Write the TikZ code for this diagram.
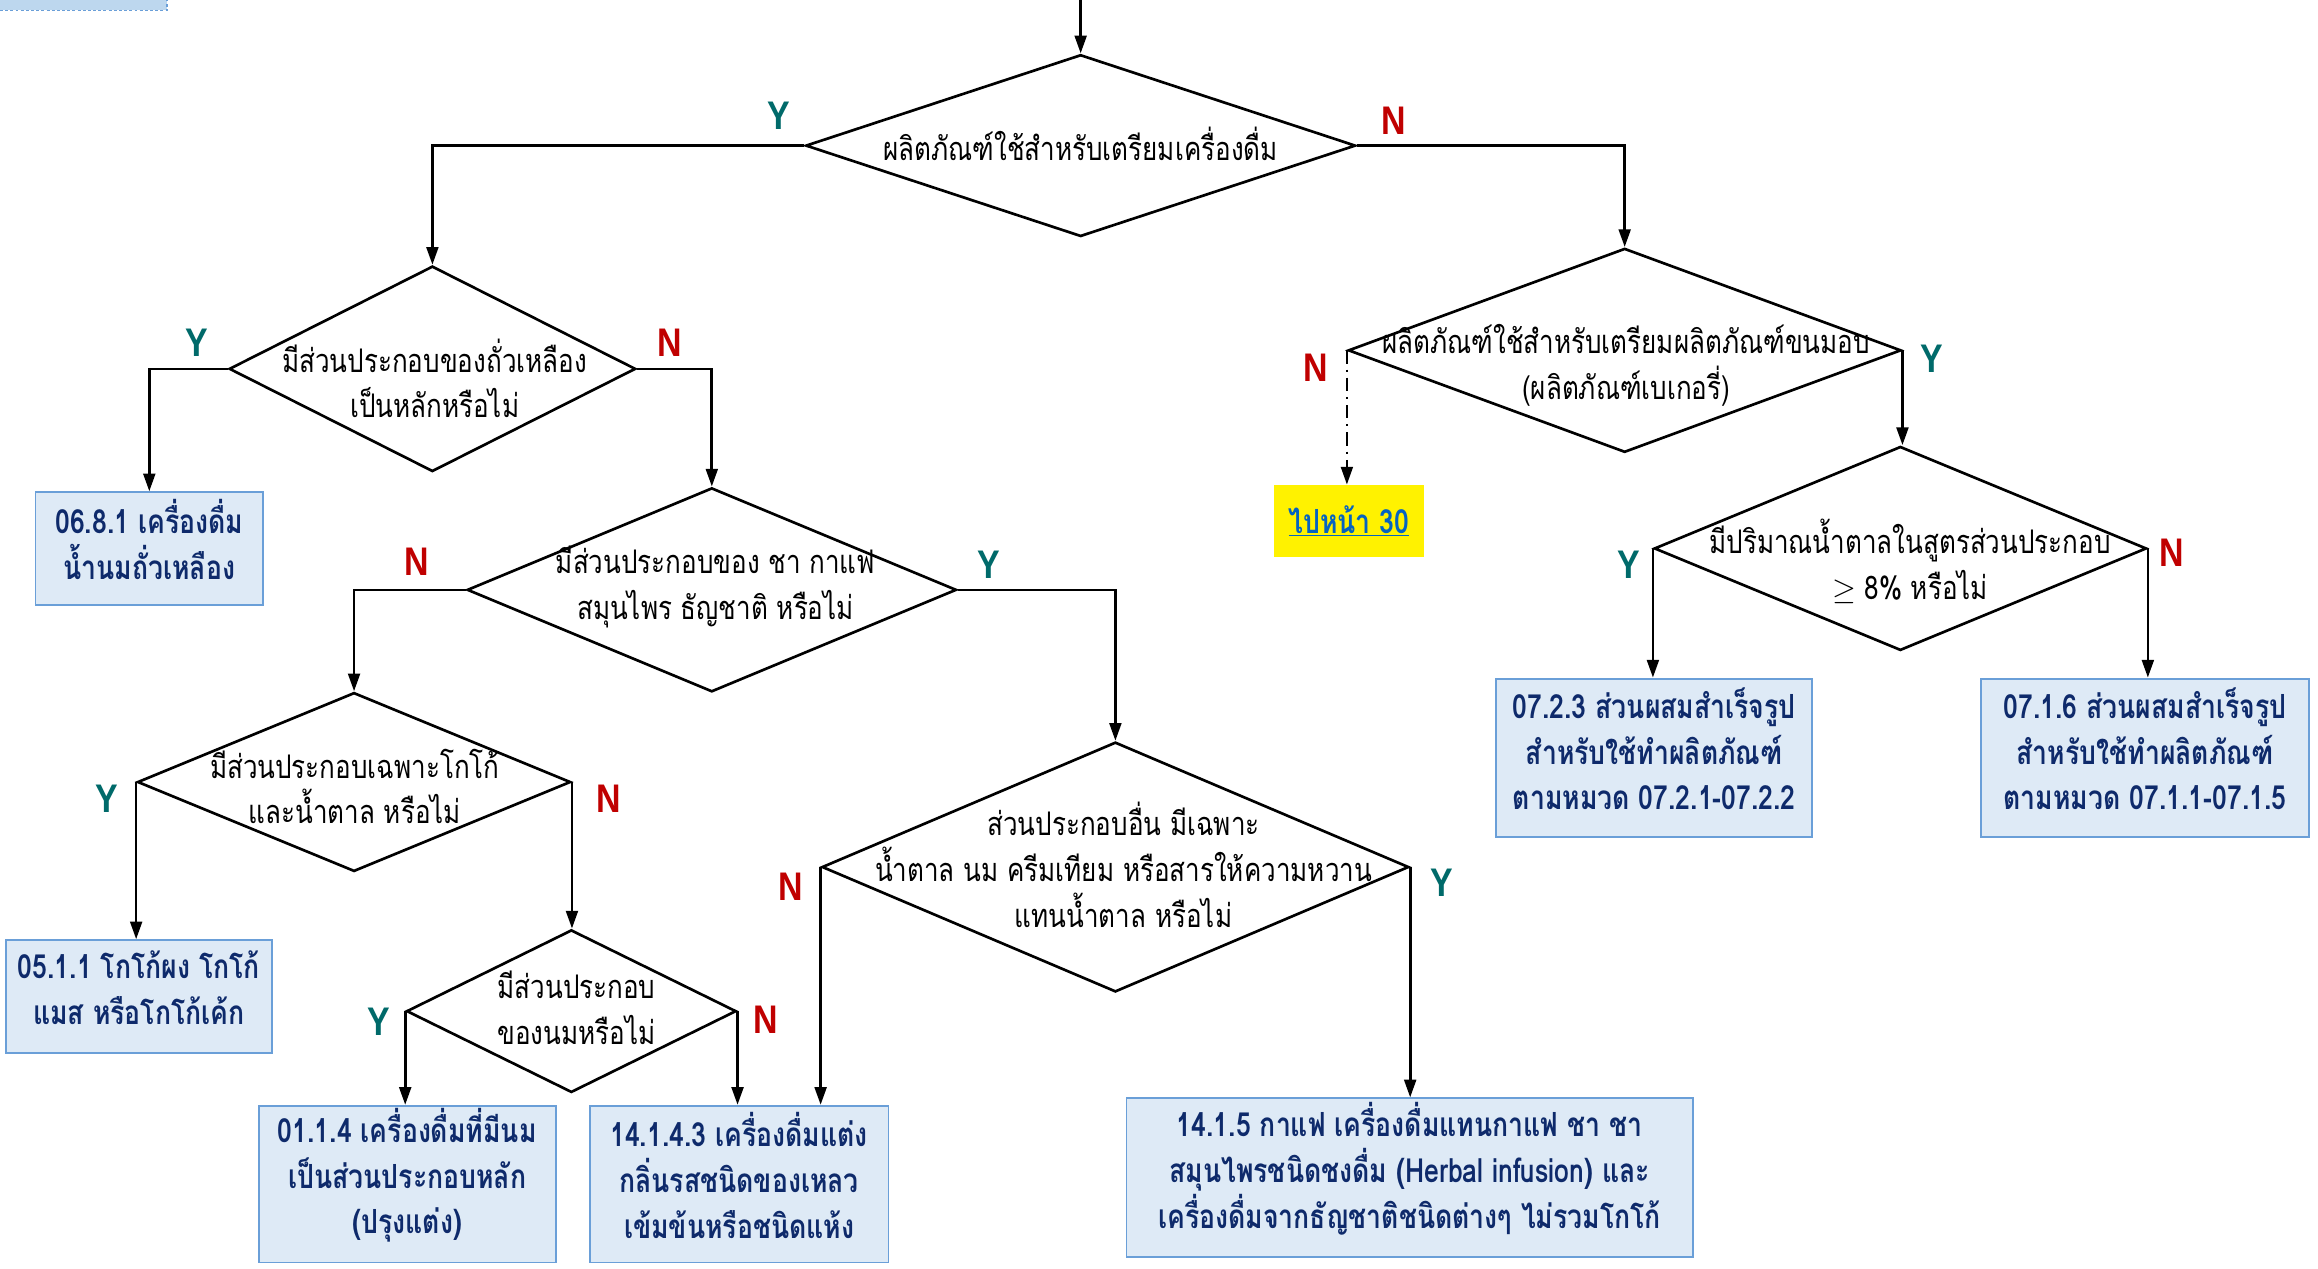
\documentclass[tikz,border=0pt]{standalone}
\usepackage{fontspec}
\usetikzlibrary{shapes.geometric,arrows.meta}
\newfontfamily\thai[Script=Thai,FakeStretch=0.8]{Loma}
\newfontfamily\ynfont[FakeStretch=0.85]{Liberation Sans}
\definecolor{navy}{HTML}{0E2A6B}
\definecolor{boxfill}{HTML}{DEEAF6}
\definecolor{boxborder}{HTML}{6A9FD8}
\definecolor{yteal}{HTML}{006A6A}
\definecolor{nred}{HTML}{C00000}
\definecolor{linkblue}{HTML}{0563C1}
\definecolor{sliver}{HTML}{BDD7EE}
\begin{document}
\begin{tikzpicture}[x=1pt,y=-1pt,
  dia/.style={draw, shape=diamond, inner sep=0pt, line width=1.8pt, fill=white},
  dtext/.style={font=\thai\fontsize{22}{31}\selectfont, align=center, inner sep=0pt},
  res/.style={draw=boxborder, fill=boxfill, line width=1.3pt, inner sep=0pt},
  restext/.style={font=\thai\bfseries\fontsize{22.5}{31}\selectfont, text=navy, align=center, inner sep=0pt},
  ylab/.style={text=yteal, font=\ynfont\bfseries\fontsize{27}{27}\selectfont, inner sep=0pt},
  nlab/.style={text=nred, font=\ynfont\bfseries\fontsize{27}{27}\selectfont, inner sep=0pt},
  arr/.style={line width=1.8pt, -{Triangle[length=12pt,width=8pt]}},
  dasharr/.style={line width=1.6pt, dash pattern=on 9pt off 4pt on 1.5pt off 4pt, -{Triangle[length=12pt,width=8pt]}}
]
\useasboundingbox (0,0) rectangle (1568,858);
\fill[white] (0,0) rectangle (1568,858);
% top-left sliver
\fill[sliver] (0,0) rectangle (113,7);
\draw[boxborder, line width=1pt, dash pattern=on 2pt off 1.5pt] (0,7) -- (113,7) -- (113,0);

% diamonds
\node[dia, minimum width=372pt, minimum height=123pt] (d1) at (731,98.5) {};
\node[dia, minimum width=275pt, minimum height=139pt] (d2) at (292.5,249.5) {};
\node[dia, minimum width=331pt, minimum height=138pt] (d4) at (481.5,399) {};
\node[dia, minimum width=293pt, minimum height=121pt] (d5) at (239.5,529) {};
\node[dia, minimum width=223pt, minimum height=110pt] (d7) at (386.5,684) {};
\node[dia, minimum width=397pt, minimum height=169pt] (d6) at (754.5,586.5) {};
\node[dia, minimum width=374pt, minimum height=138pt] (d3) at (1099,237) {};
\node[dia, minimum width=333pt, minimum height=138pt] (d8) at (1285.5,371) {};

% diamond texts
\node[dtext] (t1) at (731,97) {ผลิตภัณฑ์ใช้สำหรับเตรียมเครื่องดื่ม};
\node[dtext] (t2) at (294,256) {มีส่วนประกอบของถั่วเหลือง\\เป็นหลักหรือไม่};
\node[dtext] (t4) at (484,397) {มีส่วนประกอบของ ชา กาแฟ\\สมุนไพร ธัญชาติ หรือไม่};
\node[dtext] (t5) at (240,532) {มีส่วนประกอบเฉพาะโกโก้\\และน้ำตาล หรือไม่};
\node[dtext] (t7) at (390,682) {มีส่วนประกอบ\\ของนมหรือไม่};
\node[dtext] (t6) at (760,585) {ส่วนประกอบอื่น มีเฉพาะ\\น้ำตาล นม ครีมเทียม หรือสารให้ความหวาน\\แทนน้ำตาล หรือไม่};
\node[dtext] (t3) at (1100,247) {ผลิตภัณฑ์ใช้สำหรับเตรียมผลิตภัณฑ์ขนมอบ\\(ผลิตภัณฑ์เบเกอรี่)};
\node[dtext] (t8) at (1292,380) {มีปริมาณน้ำตาลในสูตรส่วนประกอบ\\$\geq$ 8\% หรือไม่};

% result boxes
\node[res, minimum width=154pt, minimum height=76pt] (b1) at (101,371) {};
\node[res, minimum width=180pt, minimum height=76pt] (b2) at (94,674) {};
\node[res, minimum width=201pt, minimum height=106pt] (b3) at (275.5,801) {};
\node[res, minimum width=202pt, minimum height=106pt] (b4) at (500,801) {};
\node[res, minimum width=383pt, minimum height=107pt] (b5) at (953.5,796.5) {};
\node[res, minimum width=214pt, minimum height=107pt] (b6) at (1119,512.5) {};
\node[res, minimum width=222pt, minimum height=107pt] (b7) at (1451,512.5) {};
\node[restext] (r1) at ([yshift=6pt]b1.center) {06.8.1 เครื่องดื่ม\\น้ำนมถั่วเหลือง};
\node[restext] (r2) at ([yshift=6pt]b2.center) {05.1.1 โกโก้ผง โกโก้\\แมส หรือโกโก้เค้ก};
\node[restext] (r3) at ([yshift=6pt]b3.center) {01.1.4 เครื่องดื่มที่มีนม\\เป็นส่วนประกอบหลัก\\(ปรุงแต่ง)};
\node[restext] (r4) at ([yshift=6pt]b4.center) {14.1.4.3 เครื่องดื่มแต่ง\\กลิ่นรสชนิดของเหลว\\เข้มข้นหรือชนิดแห้ง};
\node[restext] (r5) at ([yshift=6pt]b5.center) {14.1.5 กาแฟ เครื่องดื่มแทนกาแฟ ชา ชา\\สมุนไพรชนิดชงดื่ม (Herbal infusion) และ\\เครื่องดื่มจากธัญชาติชนิดต่างๆ ไม่รวมโกโก้};
\node[restext] (r6) at ([yshift=6pt]b6.center) {07.2.3 ส่วนผสมสำเร็จรูป\\สำหรับใช้ทำผลิตภัณฑ์\\ตามหมวด 07.2.1-07.2.2};
\node[restext] (r7) at ([yshift=6pt]b7.center) {07.1.6 ส่วนผสมสำเร็จรูป\\สำหรับใช้ทำผลิตภัณฑ์\\ตามหมวด 07.1.1-07.1.5};
\node[fill=yellow, minimum width=101pt, minimum height=49pt, inner sep=0pt,
  font=\thai\bfseries\fontsize{22.5}{26}\selectfont, text=linkblue] (go) at (912.5,352.5) {\underline{ไปหน้า 30}};

% connectors
\coordinate (start) at (731,0);
\draw[arr] (start) -- (d1.north);
\draw[arr] (d1.west) -| (d2.north);
\draw[arr] (d1.east) -| (d3.north);
\draw[arr] (d2.west) -| (b1.north);
\draw[arr] (d2.east) -| (d4.north);
\draw[arr] (d4.west) -| (d5.north);
\draw[arr] (d4.east) -| (d6.north);
\draw[arr] (d5.west) -- (d5.west |- b2.north);
\draw[arr] (d5.east) -- (d5.east |- d7.north);
\draw[arr] (d7.west) -- (d7.west |- b3.north);
\draw[arr] (d7.east) -- (d7.east |- b4.north);
\draw[arr] (d6.west) -- (d6.west |- b4.north);
\draw[arr] (d6.east) -- (d6.east |- b5.north);
\draw[dasharr] (d3.west) -- (d3.west |- go.north);
\draw[arr] (d3.east) -- (d3.east |- d8.north);
\draw[arr] (d8.west) -- (d8.west |- b6.north);
\draw[arr] (d8.east) -- (d8.east |- b7.north);

% Y / N labels
\node[ylab] (y1) at (527,78) {Y};
\node[nlab] (n1) at (943,82) {N};
\node[ylab] (y2) at (133,232) {Y};
\node[nlab] (n2) at (453,232) {N};
\node[nlab] (n4) at (282,380) {N};
\node[ylab] (y4) at (669,382) {Y};
\node[ylab] (y5) at (72,540) {Y};
\node[nlab] (n5) at (412,540) {N};
\node[ylab] (y7) at (256,691) {Y};
\node[nlab] (n7) at (518,690) {N};
\node[nlab] (n6) at (535,600) {N};
\node[ylab] (y6) at (975,597) {Y};
\node[nlab] (n3) at (890,249) {N};
\node[ylab] (y3) at (1307,243) {Y};
\node[ylab] (y8) at (1102,382) {Y};
\node[nlab] (n8) at (1469,374) {N};
\end{tikzpicture}
\end{document}
